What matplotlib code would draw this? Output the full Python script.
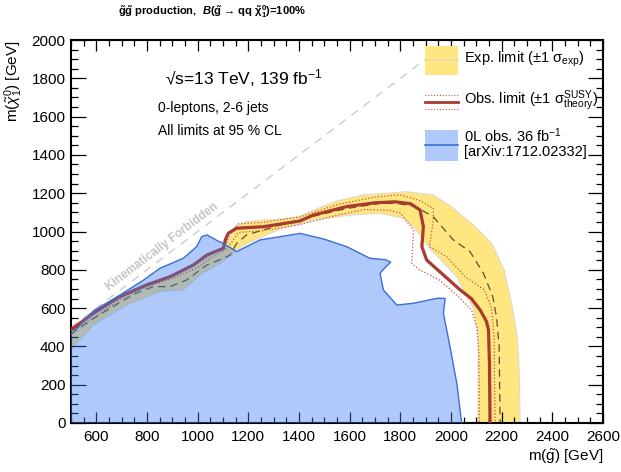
import numpy as np
import matplotlib
matplotlib.use("Agg")
import matplotlib.pyplot as plt
from matplotlib.patches import Rectangle

# ROOT/ATLAS-like look: Arial-ish font, ticks inside
plt.rcParams["font.family"] = ["Liberation Sans", "DejaVu Sans"]
plt.rcParams["mathtext.fontset"] = "custom"
plt.rcParams["mathtext.rm"] = "Liberation Sans"
plt.rcParams["mathtext.it"] = "Liberation Sans:italic"
plt.rcParams["mathtext.bf"] = "Liberation Sans:bold"
plt.rcParams["mathtext.bfit"] = "Liberation Sans:bold:italic"
plt.rcParams["mathtext.sf"] = "Liberation Sans"

# ---- data (m(gluino), m(neutralino)) in GeV ----
# observed limit (139 fb-1)
obs_x = [500, 588, 693, 799, 891, 983, 1036, 1101, 1110, 1121, 1154, 1259, 1404, 1457,
         1588, 1700, 1780, 1840, 1878, 1891, 1885, 1904, 1970, 2036, 2080, 2115, 2140,
         2148, 2152, 2154]
obs_y = [486, 573, 660, 721, 764, 825, 877, 912, 960, 991, 1017, 1025, 1055, 1086,
         1130, 1150, 1155, 1145, 1112, 1025, 921, 851, 773, 695, 650, 590, 530,
         486, 300, 0]

# observed +1 sigma theory (outer) and -1 sigma theory (inner)
obs_up_x = [500, 600, 700, 800, 900, 1000, 1060, 1112, 1130, 1160, 1260, 1400, 1550,
            1700, 1800, 1880, 1930, 1930, 1915, 1983, 2056, 2132, 2160, 2170, 2174]
obs_up_y = [495, 585, 668, 728, 772, 835, 885, 930, 1000, 1040, 1048, 1075, 1140,
            1180, 1192, 1160, 1121, 1060, 921, 868, 764, 695, 600, 450, 0]
obs_dn_x = [500, 600, 700, 800, 900, 1000, 1050, 1101, 1130, 1160, 1260, 1400, 1550,
            1660, 1760, 1801, 1852, 1845, 1877, 1954, 2030, 2081, 2102, 2110, 2112]
obs_dn_y = [478, 560, 650, 712, 755, 812, 860, 898, 935, 995, 1005, 1035, 1085,
            1115, 1110, 1095, 1008, 834, 799, 747, 660, 590, 500, 364, 0]

# expected limit
exp_x = [500, 588, 693, 760, 825, 891, 957, 1036, 1101, 1128, 1154, 1193, 1259, 1340,
         1457, 1588, 1720, 1786, 1860, 1930, 2009, 2075, 2128, 2165, 2180, 2190, 2194]
exp_y = [465, 545, 630, 680, 712, 712, 747, 825, 860, 877, 938, 982, 1008, 1040,
         1080, 1120, 1147, 1147, 1130, 1077, 956, 895, 782, 660, 550, 400, 0]

# expected +-1 sigma band: outer edge (left->right->down), inner edge (bottom->up->left)
band_out_x = [500, 588, 693, 799, 891, 983, 1036, 1101, 1121, 1154, 1193, 1259, 1325,
              1404, 1457, 1550, 1654, 1825, 1930, 1996, 2088, 2160, 2210, 2240, 2262,
              2270, 2273]
band_out_y = [480, 568, 655, 718, 760, 820, 870, 905, 960, 1030, 1051, 1060, 1065,
              1080, 1112, 1160, 1191, 1208, 1191, 1135, 1035, 940, 800, 620, 450,
              250, 0]
band_in_x = [2106, 2108, 2088, 2022, 1910, 1852, 1812, 1720, 1600, 1457, 1325, 1259,
             1193, 1154, 1128, 1088, 1009, 943, 851, 720, 588, 500]
band_in_y = [0, 451, 600, 764, 921, 1025, 1069, 1095, 1085, 1060, 1012, 975,
             935, 905, 870, 834, 773, 695, 686, 616, 512, 382]

# 0L obs. 36 fb-1 (arXiv:1712.02332) excluded region boundary
old_x = [500, 588, 693, 785, 851, 943, 996, 1016, 1036, 1062, 1080, 1101, 1154, 1246,
         1325, 1404, 1500, 1588, 1680, 1740, 1762, 1735, 1720, 1733, 1786, 1851, 1944,
         1977, 1970, 1996, 2023, 2042]
old_y = [462, 585, 668, 745, 808, 860, 921, 973, 982, 964, 950, 938, 895, 956,
         973, 990, 960, 921, 860, 853, 840, 805, 782, 695, 616, 625, 651,
         651, 573, 399, 207, 0]

diag_x = [500, 2000]

fig = plt.figure(figsize=(6.21, 4.72), dpi=100)
ax = fig.add_axes([71 / 621, 49 / 472, 532 / 621, 383 / 472])

yellow = "#FFE680"
red = "#A83A2E"
red_dot = "#C8504A"
blue_fill = (58 / 255, 122 / 255, 247 / 255)
blue_line = "#3A6FD8"

# expected band + lines
ax.fill(band_out_x + band_in_x, band_out_y + band_in_y, facecolor=yellow,
        edgecolor="#dcdcd0", lw=0.8, zorder=1)
ax.plot(exp_x, exp_y, color="#5a5030", lw=0.9, ls=(0, (6, 4)), zorder=2)
ax.plot(obs_up_x, obs_up_y, color=red_dot, lw=0.9, ls=(0, (1, 1.6)), zorder=3)
ax.plot(obs_dn_x, obs_dn_y, color=red_dot, lw=0.9, ls=(0, (1, 1.6)), zorder=3)
ax.plot(obs_x, obs_y, color=red, lw=2.3, zorder=4)

# previous result, semi-transparent on top
ax.fill(old_x + [old_x[0]], old_y + [0], facecolor=blue_fill, alpha=0.4,
        edgecolor="none", zorder=5)
ax.plot(old_x, old_y, color=blue_line, lw=1.0, zorder=6)

# kinematic limit
ax.plot(diag_x, diag_x, color="#cccccc", lw=1.0, ls=(0, (6, 5)), zorder=1)
ax.text(858, 920, "Kinematically Forbidden", rotation=45, transform_rotates_text=True,
        rotation_mode="anchor", ha="center", va="center", color="#c4c4c4",
        fontsize=8.5, fontweight="bold", zorder=7)

ax.set_xlim(500, 2600)
ax.set_ylim(0, 2000)
ax.set_xticks(np.arange(600, 2601, 200))
ax.set_xticks(np.arange(500, 2601, 50), minor=True)
ax.set_yticks(np.arange(0, 2001, 200))
ax.set_yticks(np.arange(0, 2001, 50), minor=True)
ax.tick_params(which="both", direction="in", top=True, right=True, width=0.9,
               labelsize=11)
ax.tick_params(axis="x", which="major", length=8, pad=5)
ax.tick_params(axis="x", which="minor", length=4.3)
ax.tick_params(axis="y", which="major", length=11, pad=4)
ax.tick_params(axis="y", which="minor", length=5)
for s in ax.spines.values():
    s.set_linewidth(1.5)

ax.set_xlabel(r"m($\tilde{\mathrm{g}}$) [GeV]", fontsize=11, ha="right", x=1.0)
ax.set_ylabel(r"m($\tilde{\chi}^{0}_{1}$) [GeV]", fontsize=11, ha="right", y=1.0)
ax.xaxis.set_label_coords(1.0, -0.062)
ax.yaxis.set_label_coords(-0.086, 1.0)

fig.text(0.19, 0.975, r"$\mathbf{\tilde{g}\tilde{g}}$ production,  "
         r"$\mathbfit{B}$($\mathbf{\tilde{g}}$ → qq "
         r"$\mathbf{\tilde{\chi}^{0}_{1}}$)=100%",
         fontsize=8, fontweight="bold", va="center")

# annotations
ax.text(0.176, 0.901, r"√s=13 TeV, 139 fb$^{-1}$", transform=ax.transAxes,
        fontsize=12.5, va="center")
ax.text(0.164, 0.822, "0-leptons, 2-6 jets", transform=ax.transAxes, fontsize=10,
        va="center")
ax.text(0.164, 0.762, "All limits at 95 % CL", transform=ax.transAxes, fontsize=10,
        va="center")

# legend drawn in axes fraction
lx0, lw_ = 0.665, 0.062
ax.add_patch(Rectangle((lx0, 0.909), lw_, 0.075, transform=ax.transAxes,
                       facecolor=yellow, edgecolor="none", zorder=8))
ax.plot([lx0, lx0 + lw_], [0.947, 0.947], transform=ax.transAxes, color="#e6dcb4",
        lw=1.2, zorder=9)
ax.text(0.738, 0.950, r"Exp. limit (±1 σ$_{\mathrm{exp}}$)",
        transform=ax.transAxes, fontsize=10.5, va="center", zorder=9)

ax.plot([lx0, lx0 + lw_], [0.838, 0.838], transform=ax.transAxes, color=red, lw=2.0,
        zorder=9)
for yy in (0.856, 0.820):
    ax.plot([lx0, lx0 + lw_], [yy, yy], transform=ax.transAxes, color=red_dot, lw=0.8,
            ls=(0, (1, 1.6)), zorder=9)
ax.text(0.738, 0.842, r"Obs. limit (±1 σ$^{\mathrm{SUSY}}_{\mathrm{theory}}$)",
        transform=ax.transAxes, fontsize=10.5, va="center", zorder=9)

ax.add_patch(Rectangle((lx0, 0.684), lw_, 0.081, transform=ax.transAxes,
                       facecolor=blue_fill, alpha=0.4, edgecolor="none", zorder=8))
ax.plot([lx0, lx0 + lw_], [0.726, 0.726], transform=ax.transAxes, color=blue_line,
        lw=1.2, zorder=9)
ax.text(0.738, 0.750, r"0L obs. 36 fb$^{-1}$", transform=ax.transAxes, fontsize=10.5,
        va="center", zorder=9)
ax.text(0.738, 0.707, "[arXiv:1712.02332]", transform=ax.transAxes, fontsize=10.5,
        va="center", zorder=9)

fig.savefig("out.png", dpi=100)
